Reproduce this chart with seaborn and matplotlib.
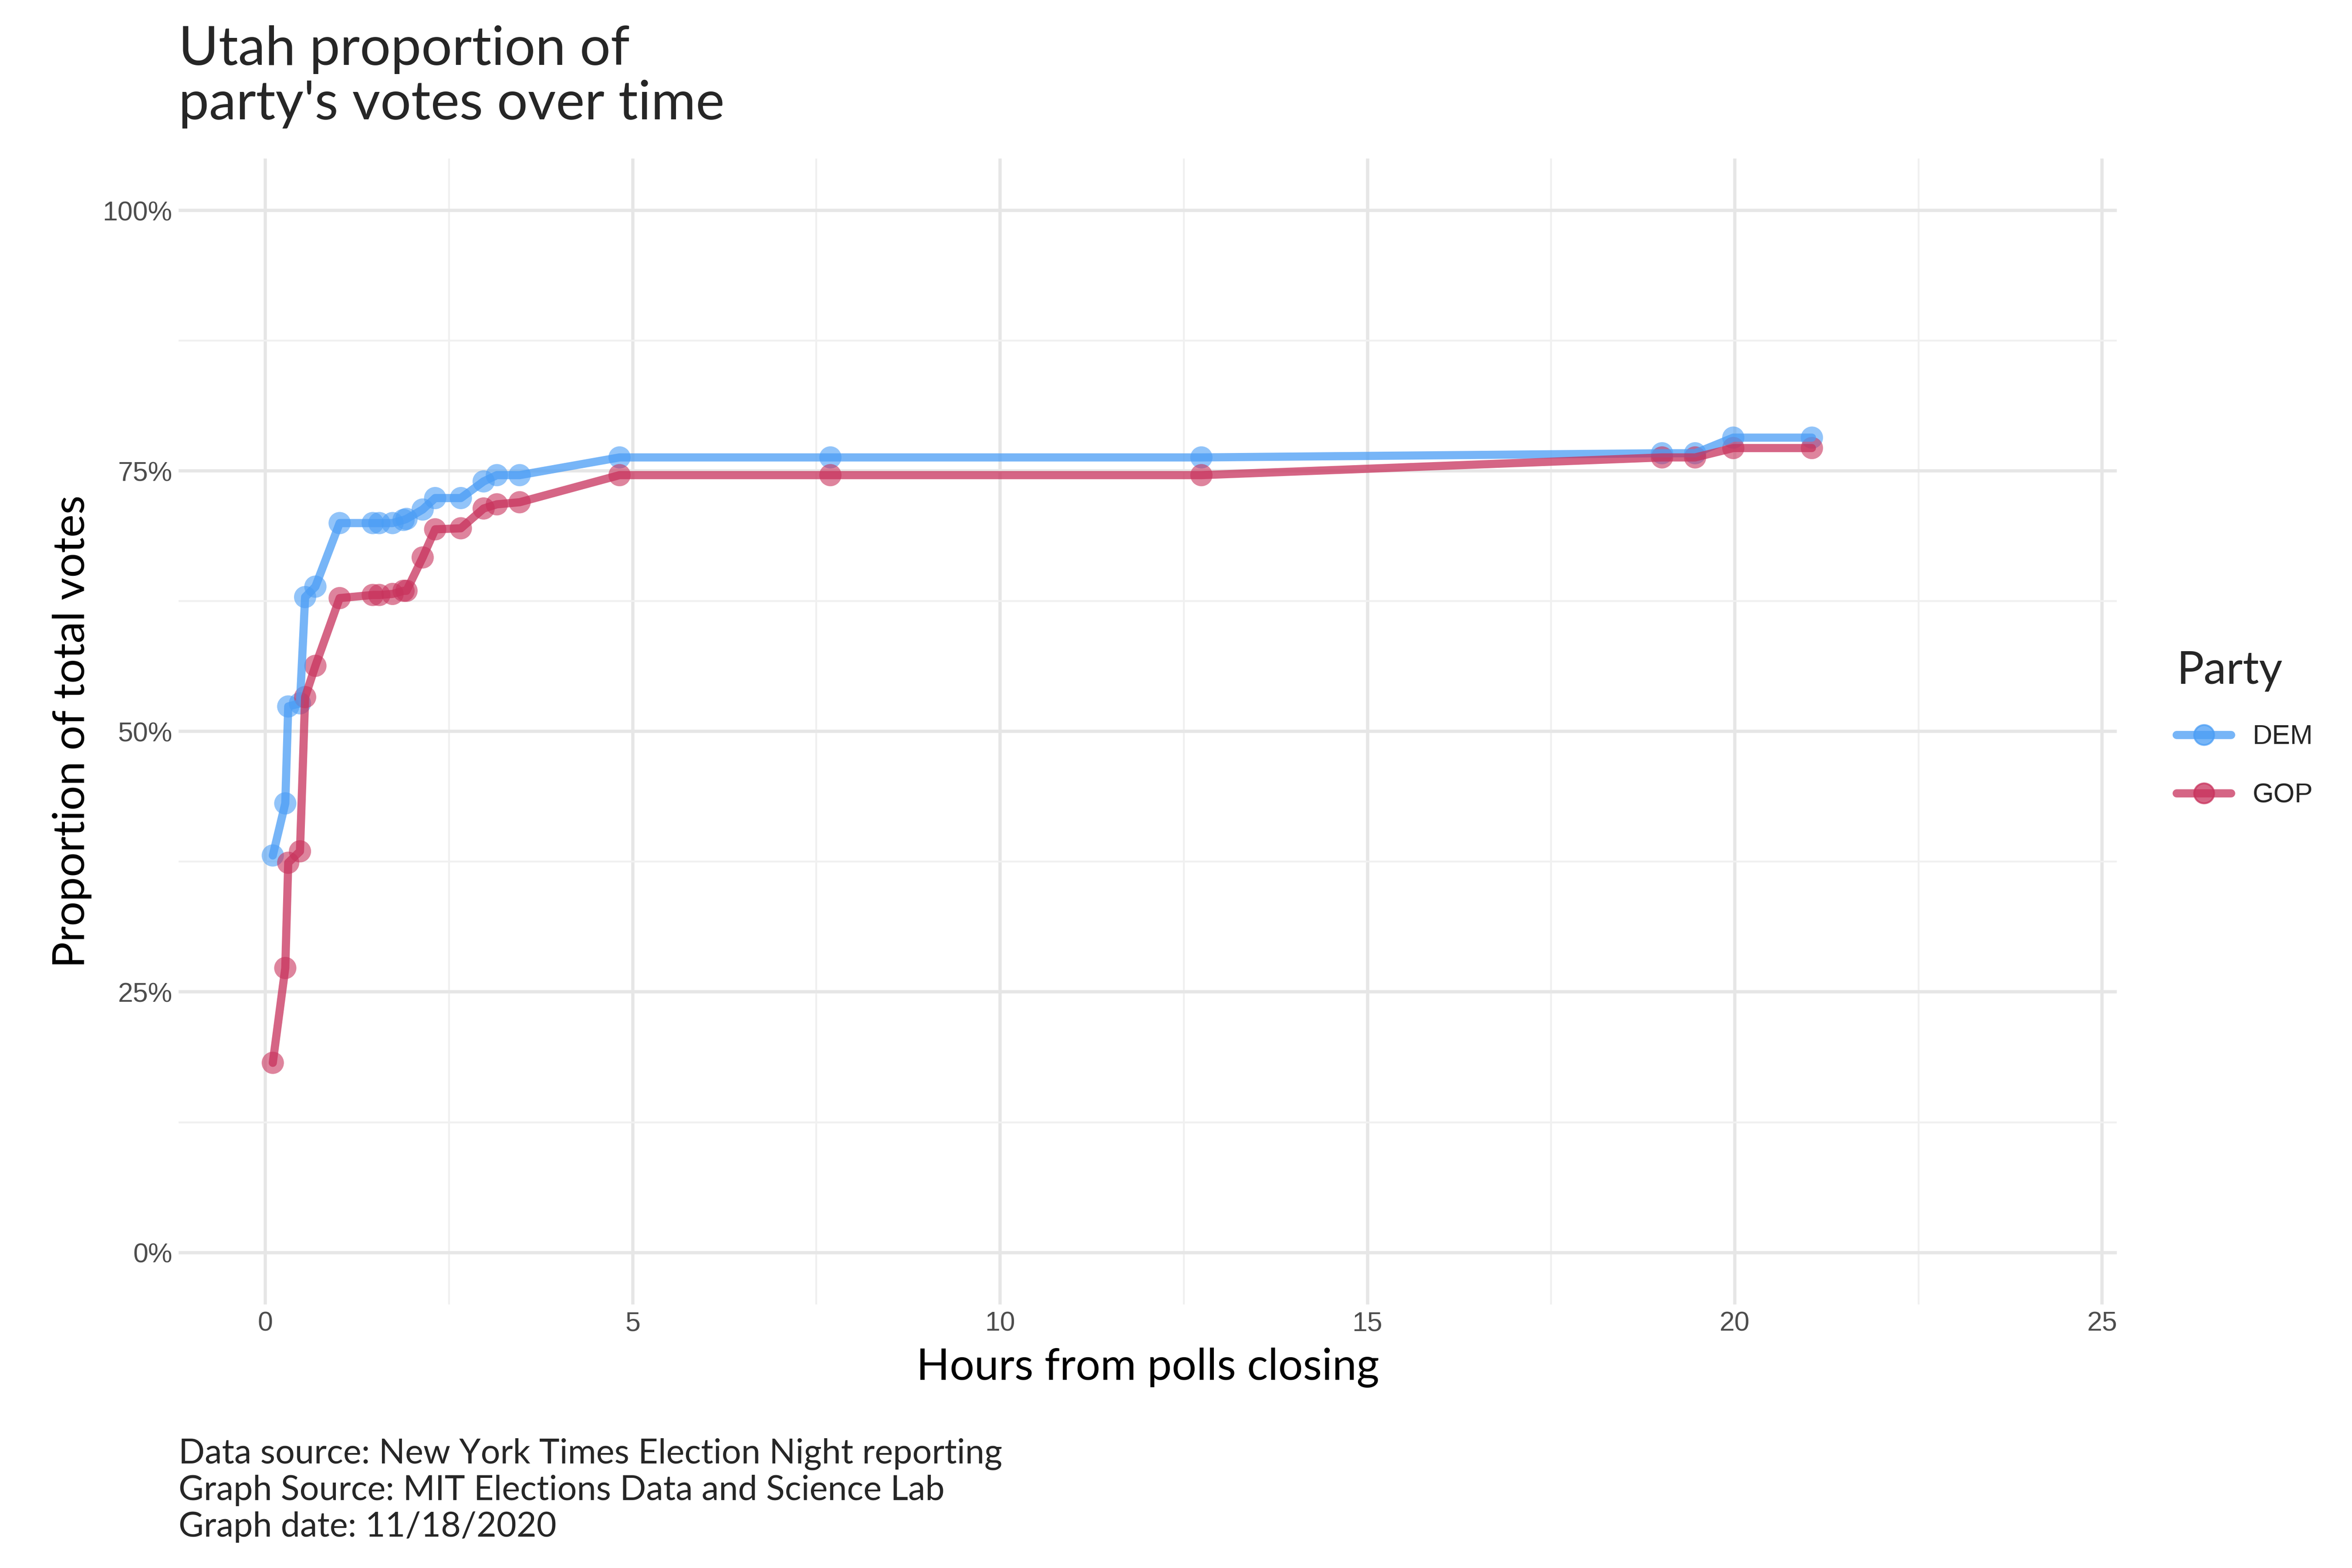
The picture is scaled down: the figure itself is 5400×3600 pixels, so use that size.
import matplotlib
matplotlib.use("Agg")
import matplotlib.pyplot as plt
import seaborn as sns
import pandas as pd
from matplotlib.ticker import MultipleLocator, FuncFormatter
from matplotlib.lines import Line2D

hours = [0.10, 0.27, 0.31, 0.47, 0.54, 0.68, 1.01, 1.46, 1.55, 1.73, 1.88, 1.92, 2.14, 2.31,
         2.66, 2.97, 3.15, 3.46, 4.82, 7.69, 12.74, 19.01, 19.46, 19.98, 21.05]
dem = [38.1, 43.1, 52.4, 52.7, 62.9, 63.9, 70.0, 70.0, 70.0, 70.0, 70.3, 70.4, 71.3, 72.4,
       72.4, 74.0, 74.6, 74.6, 76.3, 76.3, 76.3, 76.7, 76.7, 78.2, 78.2]
gop = [18.2, 27.3, 37.4, 38.5, 53.3, 56.3, 62.8, 63.1, 63.1, 63.2, 63.5, 63.5, 66.7, 69.4,
       69.5, 71.4, 71.8, 72.0, 74.6, 74.6, 74.6, 76.3, 76.3, 77.2, 77.2]
parties = ["DEM", "GOP"]
colors = {"DEM": "#4a9df5", "GOP": "#c8325c"}

df = pd.concat([
    pd.DataFrame({"hours": hours, "prop": dem, "Party": "DEM"}),
    pd.DataFrame({"hours": hours, "prop": gop, "Party": "GOP"}),
])

sns.set_theme(style="whitegrid")
plt.rcParams['font.family'] = ['Lato', 'DejaVu Sans']

fig = plt.figure(figsize=(18, 12), dpi=300)
ax = fig.add_axes([0.076, 0.168, 0.824, 0.731])
for p in parties:
    d = df[df.Party == p]
    sns.lineplot(data=d, x="hours", y="prop", color=colors[p], linewidth=4.5, alpha=0.75,
                 ax=ax, sort=False, estimator=None)
    sns.scatterplot(data=d, x="hours", y="prop", color=colors[p], s=150, alpha=0.6,
                    ax=ax, edgecolor="none")

ax.set_xlim(-1.18, 25.2)
ax.set_ylim(-5, 105)
ax.xaxis.set_major_locator(MultipleLocator(5))
ax.xaxis.set_minor_locator(MultipleLocator(2.5))
ax.yaxis.set_major_locator(MultipleLocator(25))
ax.yaxis.set_minor_locator(MultipleLocator(12.5))
ax.yaxis.set_major_formatter(FuncFormatter(lambda v, _: f"{int(v)}%"))
ax.grid(which="major", color="#e6e6e6", linewidth=1.8)
ax.grid(which="minor", color="#f0f0f0", linewidth=1.0)
for s in ax.spines.values():
    s.set_visible(False)
ax.tick_params(labelsize=15, colors="#4d4d4d", length=0)
for t in ax.get_xticklabels() + ax.get_yticklabels():
    t.set_family(["Liberation Sans", "DejaVu Sans"])
ax.set_xlabel("Hours from polls closing", fontsize=24, color="black", labelpad=6)
ax.set_ylabel("Proportion of total votes", fontsize=24, color="black", labelpad=6)

fig.text(0.076, 0.918, "Utah proportion of\nparty's votes over time", fontsize=30,
         ha="left", va="bottom", linespacing=1.15)
fig.text(0.076, 0.083, "Data source: New York Times Election Night reporting\n"
         "Graph Source: MIT Elections Data and Science Lab\nGraph date: 11/18/2020",
         fontsize=19, ha="left", va="top", linespacing=1.2)

handles = [Line2D([0], [0], color=colors[p], lw=4.5, alpha=0.75, marker="o",
                  markersize=11) for p in parties]
leg = fig.legend(handles, parties, title="Party", loc="center left",
                 bbox_to_anchor=(0.915, 0.535), frameon=False, fontsize=15,
                 title_fontsize=25, handlelength=2, labelspacing=1.2)
leg._legend_box.align = "left"
for t in leg.get_texts():
    t.set_family(["Liberation Sans", "DejaVu Sans"])

fig.savefig("out.png", dpi=300)
